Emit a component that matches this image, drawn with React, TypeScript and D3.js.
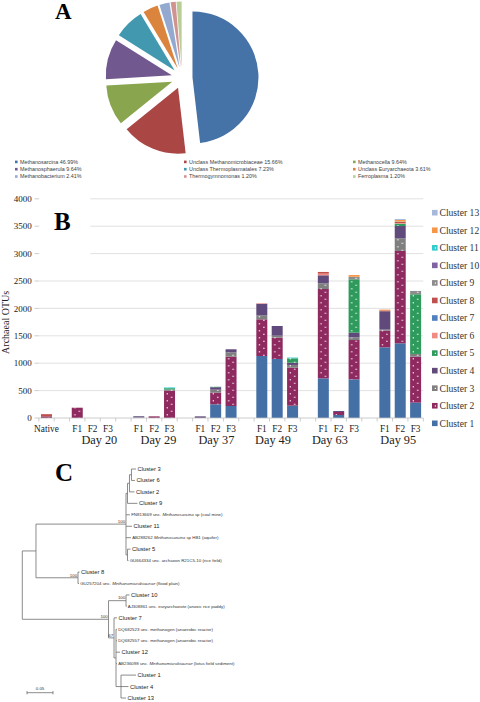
import React from "react";
import * as d3 from "d3";

// ---------- Panel A data ----------
const pieNames = [
  "Methanosarcina",
  "Unclass Methanomicrobiaceae",
  "Methanocella",
  "Methanosphaerula",
  "Unclass Thermoplasmatales",
  "Unclass Euryarchaeota",
  "Methanobacterium",
  "Thermogymnomonas",
  "Ferroplasma",
];
const piePercents = [46.99, 15.66, 9.64, 9.64, 7.23, 3.61, 2.41, 1.2, 1.2];

// ---------- Panel B data ----------
const barCategories = [
  "Native", "", "F1", "F2", "F3", "", "F1", "F2", "F3", "", "F1", "F2", "F3",
  "", "F1", "F2", "F3", "", "F1", "F2", "F3", "", "F1", "F2", "F3",
];
const dayLabels = ["Day 20", "Day 29", "Day 37", "Day 49", "Day 63", "Day 95"];
const yTicks = [0, 500, 1000, 1500, 2000, 2500, 3000, 3500, 4000];
const clusterNames = [
  "Cluster 1", "Cluster 2", "Cluster 3", "Cluster 4", "Cluster 5", "Cluster 6", "Cluster 7",
  "Cluster 8", "Cluster 9", "Cluster 10", "Cluster 11", "Cluster 12", "Cluster 13",
];
//                 Nat  -  F1  F2 F3  -  F1  F2  F3   -  F1   F2   F3  -   F1    F2   F3  -   F1   F2  F3   -   F1    F2    F3
const cluster1 =  [0,   0, 0,   0, 0, 0, 0,  0,  0,   0, 0,  250, 219, 0, 1131, 1077, 225, 0, 724,  55, 706, 0, 1290, 1363, 280];
const cluster2 =  [30,  0, 188, 0, 0, 0, 0,  30, 498, 0, 0,  212, 900, 0, 670,  389,  693, 0, 1630, 55, 717, 0, 303,  1685, 840];
const cluster3 =  [0,   0, 0,   0, 0, 0, 10, 0,  20,  0, 0,  55,  80,  0, 70,   36,   50,  0, 104,  0,  49,  0, 20,   231,  49];
const cluster4 =  [0,   0, 0,   0, 0, 0, 22, 0,  0,   0, 30, 45,  55,  0, 213,  177,  40,  0, 146,  18, 84,  0, 335,  225,  0];
const cluster5 =  [0,   0, 0,   0, 0, 0, 0,  0,  25,  0, 0,  8,   0,   0, 0,    0,    80,  0, 0,    0,  975, 0, 0,    42,   1089];
const cluster6 =  [0,   0, 0,   0, 0, 0, 0,  0,  0,   0, 0,  0,   0,   0, 10,   0,    0,   0, 30,   0,  0,   0, 0,    12,   0];
const cluster7 =  [0,   0, 0,   0, 0, 0, 0,  0,  0,   0, 0,  0,   0,   0, 0,    0,    0,   0, 0,    0,  0,   0, 0,    0,    0];
const cluster8 =  [40,  0, 0,   0, 0, 0, 0,  0,  0,   0, 0,  0,   0,   0, 0,    0,    0,   0, 31,   0,  0,   0, 15,   20,   0];
const cluster9 =  [0,   0, 0,   0, 0, 0, 0,  0,  0,   0, 0,  0,   0,   0, 0,    0,    0,   0, 0,    0,  47,  0, 0,    0,    61];
const cluster10 = [0,   0, 0,   0, 0, 0, 0,  0,  0,   0, 0,  0,   0,   0, 0,    0,    0,   0, 0,    0,  0,   0, 0,    0,    0];
const cluster11 = [0,   0, 0,   0, 0, 0, 0,  0,  15,  0, 0,  0,   0,   0, 0,    0,    15,  0, 0,    0,  0,   0, 0,    6,    0];
const cluster12 = [0,   0, 0,   0, 0, 0, 0,  0,  0,   0, 0,  0,   0,   0, 0,    0,    0,   0, 0,    0,  31,  0, 15,   30,   0];
const cluster13 = [0,   0, 0,   0, 0, 0, 0,  0,  0,   0, 0,  0,   0,   0, 0,    0,    0,   0, 0,    0,  0,   0, 0,    18,   0];
const clusterSeries = [
  cluster1, cluster2, cluster3, cluster4, cluster5, cluster6, cluster7,
  cluster8, cluster9, cluster10, cluster11, cluster12, cluster13,
];

// ---------- Panel C data (phylogram: id, parent, branch length, bootstrap) ----------
const treeEdges: [string, string, number, string][] = [
  ["root", "", 0, ""],
  ["U", "root", 0.0263, ""],
  ["M", "U", 0.1731, "100"],
  ["S1", "M", 0.0029, ""],
  ["S2", "S1", 0.0038, ""],
  ["S3", "S2", 0.0038, ""],
  ["Cluster 3", "S3", 0.0087, ""],
  ["Cluster 6", "S3", 0.0067, ""],
  ["Cluster 2", "S2", 0.0096, ""],
  ["Cluster 9", "S1", 0.0192, ""],
  ["FN813669", "M", 0.0077, ""],
  ["Cluster 11", "M", 0.0115, ""],
  ["AB288262", "M", 0.0096, ""],
  ["S4", "M", 0.0029, ""],
  ["Cluster 5", "S4", 0.0058, ""],
  ["GU664334", "S4", 0.0019, ""],
  ["C8", "U", 0.0808, "100"],
  ["Cluster 8", "C8", 0.0029, ""],
  ["GU257204", "C8", 0.0019, ""],
  ["L", "root", 0.1658, "100"],
  ["C10", "L", 0.0337, "100"],
  ["Cluster 10", "C10", 0.0067, ""],
  ["AJ308861", "C10", 0.001, ""],
  ["N7", "L", 0.0106, "67"],
  ["Cluster 7", "N7", 0.0058, ""],
  ["N67", "N7", 0.0038, ""],
  ["DQ682523", "N67", 0.0019, ""],
  ["DQ682557", "N67", 0.0019, ""],
  ["Cluster 12", "N67", 0.0077, ""],
  ["AB236098", "N67", 0.0019, ""],
  ["N1", "N67", 0.0096, ""],
  ["Cluster 1", "N1", 0.0288, ""],
  ["Cluster 4", "N1", 0.0144, ""],
  ["Cluster 13", "N1", 0.0096, ""],
];
// accession labels: [id, plain, italic, plain]
const accessionLabels: [string, string, string, string][] = [
  ["FN813669", "FN813669 unc. ", "Methanosarcina", " sp (coal mine)"],
  ["AB288262", "AB288262 ", "Methanosarcina", " sp HB1 (aquifer)"],
  ["GU664334", "GU664334 unc. archaeon R21C5-10 (rice field)", "", ""],
  ["GU257204", "GU257204 unc. ", "Methanomicrobiaceae", " (flood plain)"],
  ["AJ308861", "AJ308861 unc. euryarchaeote (anoxic rice paddy)", "", ""],
  ["DQ682523", "DQ682523 unc. methanogen (anaerobic reactor)", "", ""],
  ["DQ682557", "DQ682557 unc. methanogen (anaerobic reactor)", "", ""],
  ["AB236098", "AB236098 unc. ", "Methanomicrobiaceae", " (lotus field sediment)"],
];
const scaleBarValue = 0.05;

// ---------- styles ----------
const SERIF = "'Liberation Serif', 'Times New Roman', serif";
const SANS = "'Liberation Sans', Arial, sans-serif";
const pieColors = ["#4572A7", "#AA4643", "#89A54E", "#71588F", "#4198AF", "#DB843D", "#93A9CF", "#D19392", "#B9CD96"];
const clusterColors = [
  "#4470A6", "#8E2A5F", "#7F7F7F", "#604A7B", "#2E9A5C", "#F28A84", "#4F81BD",
  "#C0504D", "#8C8C8C", "#8064A2", "#33CCCC", "#F79646", "#A6B9DC",
];
const dotted = [false, true, true, false, true, false, false, false, true, false, true, false, false];
const dayNudge = [6.7, 4.3, 0.7, -4.2, -8.8, -2];

export default function App() {
  // ----- pie -----
  const pcx = 182, pcy = 78, pr = 66, explode = 10.5;
  const pieArcs = d3.pie<number>().sort(null).value((d) => d)(piePercents);
  const arcGen = d3.arc<d3.PieArcDatum<number>>().innerRadius(0).outerRadius(pr);
  const legendColX = [15, 184, 353];
  const legendRowY = [162, 169.3, 176.6];

  // ----- bars -----
  const x = d3
    .scaleBand<number>()
    .domain(d3.range(barCategories.length))
    .range([38.8, 423.3])
    .paddingInner(0.285)
    .paddingOuter(0.1425);
  const y = d3.scaleLinear().domain([0, 4000]).range([418, 198.8]);
  const rows = barCategories.map((_, i) => {
    const o: Record<string, number> = {};
    clusterNames.forEach((n, k) => (o[n] = clusterSeries[k][i]));
    return o;
  });
  const stacked = d3.stack<Record<string, number>>().keys(clusterNames)(rows);
  const step = x.step();
  const bandStart = x(0) as number;
  const [plotL, plotR] = x.range();

  // ----- tree -----
  const root = d3
    .stratify<[string, string, number, string]>()
    .id((d) => d[0])
    .parentId((d) => (d[1] === "" ? null : d[1]))(treeEdges);
  const tx = d3.scaleLinear().domain([0, 1]).range([22.3, 22.3 + 520]);
  const leaves = root.leaves();
  const ly = d3.scalePoint<string>().domain(leaves.map((l) => l.id as string)).range([469, 698]);
  const pos = new Map<string, { x: number; y: number }>();
  root.eachBefore((n) => {
    const px = n.parent ? pos.get(n.parent.id as string)!.x : 0;
    pos.set(n.id as string, { x: px + n.data[2], y: 0 });
  });
  root.eachAfter((n) => {
    const p = pos.get(n.id as string)!;
    if (!n.children) p.y = ly(n.id as string) as number;
    else {
      const f = pos.get(n.children[0].id as string)!.y;
      const l = pos.get(n.children[n.children.length - 1].id as string)!.y;
      p.y = (f + l) / 2;
    }
  });
  const accMap = new Map(accessionLabels.map((a) => [a[0], a]));
  const treeStroke = "#6f6f6f";
  const barLen = tx(scaleBarValue) - tx(0);

  return (
    <svg
      width={480}
      height={702}
      viewBox="0 0 480 702"
      style={{ position: "absolute", left: 0, top: 0, background: "#fff" }}
    >
      <defs>
        {clusterColors.map((c, k) =>
          dotted[k] ? (
            <pattern
              key={k}
              id={`dots${k}`}
              patternUnits="userSpaceOnUse"
              x={bandStart}
              y={0}
              width={step}
              height={7}
            >
              <rect width={step} height={7} fill={c} />
              <rect x={2.6} y={1.2} width={1.2} height={1.2} fill="#fff" />
              <rect x={7} y={4.7} width={1.2} height={1.2} fill="#fff" />
            </pattern>
          ) : null
        )}
      </defs>

      {/* ================= Panel A ================= */}
      <text x={55} y={19} fontFamily={SERIF} fontWeight="bold" fontSize={23} fill="#000">
        A
      </text>
      <g>
        {pieArcs.map((a, i) => {
          const mid = (a.startAngle + a.endAngle) / 2;
          const dx = Math.sin(mid) * explode;
          const dy = -Math.cos(mid) * explode;
          return (
            <path
              key={i}
              d={arcGen(a) as string}
              transform={`translate(${pcx + dx},${pcy + dy})`}
              fill={pieColors[i]}
            />
          );
        })}
      </g>
      <g fontFamily={SANS} fontSize={5.4} fill="#404040">
        {pieNames.map((n, i) => {
          const cx = legendColX[i % 3];
          const cy = legendRowY[Math.floor(i / 3)];
          return (
            <g key={i}>
              <rect x={cx} y={cy - 1.4} width={2.6} height={2.6} fill={pieColors[i]} />
              <text x={cx + 5} y={cy} dy="0.35em">
                {`${n} ${piePercents[i].toFixed(2)}%`}
              </text>
            </g>
          );
        })}
      </g>

      {/* ================= Panel B ================= */}
      <g>
        {yTicks.map((t) => (
          <g key={t}>
            {t > 0 && (
              <line x1={plotL} x2={plotR} y1={y(t)} y2={y(t)} stroke="#d9d9d9" strokeWidth={0.8} />
            )}
            <line x1={34.5} x2={plotL} y1={y(t)} y2={y(t)} stroke="#bfbfbf" strokeWidth={0.8} />
            <text
              x={31.8}
              y={y(t)}
              dy="0.35em"
              textAnchor="end"
              fontFamily={SERIF}
              fontSize={9}
              fill="#222"
            >
              {t}
            </text>
          </g>
        ))}
        {/* white box behind B */}
        <rect x={plotL + 0.5} y={194} width={51} height={64} fill="#fff" />
        <text x={54} y={230} fontFamily={SERIF} fontWeight="bold" fontSize={25} fill="#000">
          B
        </text>
        {/* bars */}
        {stacked.map((s, k) =>
          s.map((d, i) => {
            const h = y(d[0]) - y(d[1]);
            if (h <= 0) return null;
            return (
              <rect
                key={`${k}-${i}`}
                x={x(i)}
                y={y(d[1])}
                width={x.bandwidth()}
                height={h}
                fill={dotted[k] ? `url(#dots${k})` : clusterColors[k]}
              />
            );
          })
        )}
        {/* x axis */}
        <line x1={plotL} x2={plotR} y1={y(0)} y2={y(0)} stroke="#bfbfbf" strokeWidth={0.8} />
        {d3.range(barCategories.length + 1).map((k) => (
          <line
            key={k}
            x1={plotL + k * step}
            x2={plotL + k * step}
            y1={y(0)}
            y2={y(0) + 3.5}
            stroke="#bfbfbf"
            strokeWidth={0.8}
          />
        ))}
        {barCategories.map((c, i) =>
          c ? (
            <text
              key={i}
              x={(x(i) as number) + x.bandwidth() / 2}
              y={432}
              textAnchor="middle"
              fontFamily={SERIF}
              fontSize={9.3}
              fill="#222"
            >
              {c}
            </text>
          ) : null
        )}
        {dayLabels.map((d, g) => {
          const idx = 3 + g * 4;
          return (
            <text
              key={d}
              x={(x(idx) as number) + x.bandwidth() / 2 + dayNudge[g]}
              y={444}
              textAnchor="middle"
              fontFamily={SERIF}
              fontSize={12.3}
              fill="#222"
            >
              {d}
            </text>
          );
        })}
        <text
          transform={`translate(8.5,${(y(0) + y(4000)) / 2 + 14}) rotate(-90)`}
          textAnchor="middle"
          fontFamily={SERIF}
          fontSize={10}
          fill="#222"
        >
          Archaeal OTUs
        </text>
        {/* legend */}
        {clusterNames.map((n, k) => {
          const ry = 423.3 - k * 17.55;
          return (
            <g key={n}>
              <rect x={432} y={ry - 2.8} width={5.6} height={5.6} fill={clusterColors[k]} />
              {dotted[k] && <rect x={434.8} y={ry - 0.4} width={1.2} height={1.2} fill="#fff" />}
              <text x={439.5} y={ry} dy="0.35em" fontFamily={SERIF} fontSize={9.6} fill="#333">
                {n}
              </text>
            </g>
          );
        })}
      </g>

      {/* ================= Panel C ================= */}
      <text x={55} y={481} fontFamily={SERIF} fontWeight="bold" fontSize={25} fill="#000">
        C
      </text>
      <g stroke={treeStroke} strokeWidth={0.8} fill="none">
        {root.descendants().map((n) => {
          const p = pos.get(n.id as string)!;
          const els: React.ReactNode[] = [];
          if (n.parent) {
            const pp = pos.get(n.parent.id as string)!;
            els.push(<line key="h" x1={tx(pp.x)} x2={tx(p.x)} y1={p.y} y2={p.y} />);
          }
          if (n.children) {
            const f = pos.get(n.children[0].id as string)!.y;
            const l = pos.get(n.children[n.children.length - 1].id as string)!.y;
            els.push(<line key="v" x1={tx(p.x)} x2={tx(p.x)} y1={f} y2={l} />);
          }
          return <g key={n.id as string}>{els}</g>;
        })}
      </g>
      <g fontFamily={SANS} fill="#222">
        {root.descendants().map((n) => {
          const p = pos.get(n.id as string)!;
          if (!n.children) {
            const acc = accMap.get(n.id as string);
            if (acc) {
              return (
                <text key={n.id as string} x={tx(p.x) + 1.2} y={p.y} dy="0.35em" fontSize={4.4} fill="#333">
                  {acc[1]}
                  {acc[2] && <tspan fontStyle="italic">{acc[2]}</tspan>}
                  {acc[3]}
                </text>
              );
            }
            return (
              <text key={n.id as string} x={tx(p.x) + 1.5} y={p.y} dy="0.35em" fontSize={5.8}>
                {n.id}
              </text>
            );
          }
          if (n.data[3]) {
            return (
              <text
                key={n.id as string}
                x={tx(p.x) - 0.8}
                y={p.y - 1.2}
                textAnchor="end"
                fontSize={4.4}
                fill="#333"
              >
                {n.data[3]}
              </text>
            );
          }
          return null;
        })}
      </g>
      {/* scale bar */}
      <g stroke={treeStroke} strokeWidth={0.8}>
        <line x1={27} x2={27 + barLen} y1={692.7} y2={692.7} />
        <line x1={27} x2={27} y1={691} y2={694.4} />
        <line x1={27 + barLen} x2={27 + barLen} y1={691} y2={694.4} />
      </g>
      <text
        x={27 + barLen / 2}
        y={689.5}
        textAnchor="middle"
        fontFamily={SANS}
        fontSize={4.4}
        fill="#333"
      >
        {scaleBarValue}
      </text>
    </svg>
  );
}
